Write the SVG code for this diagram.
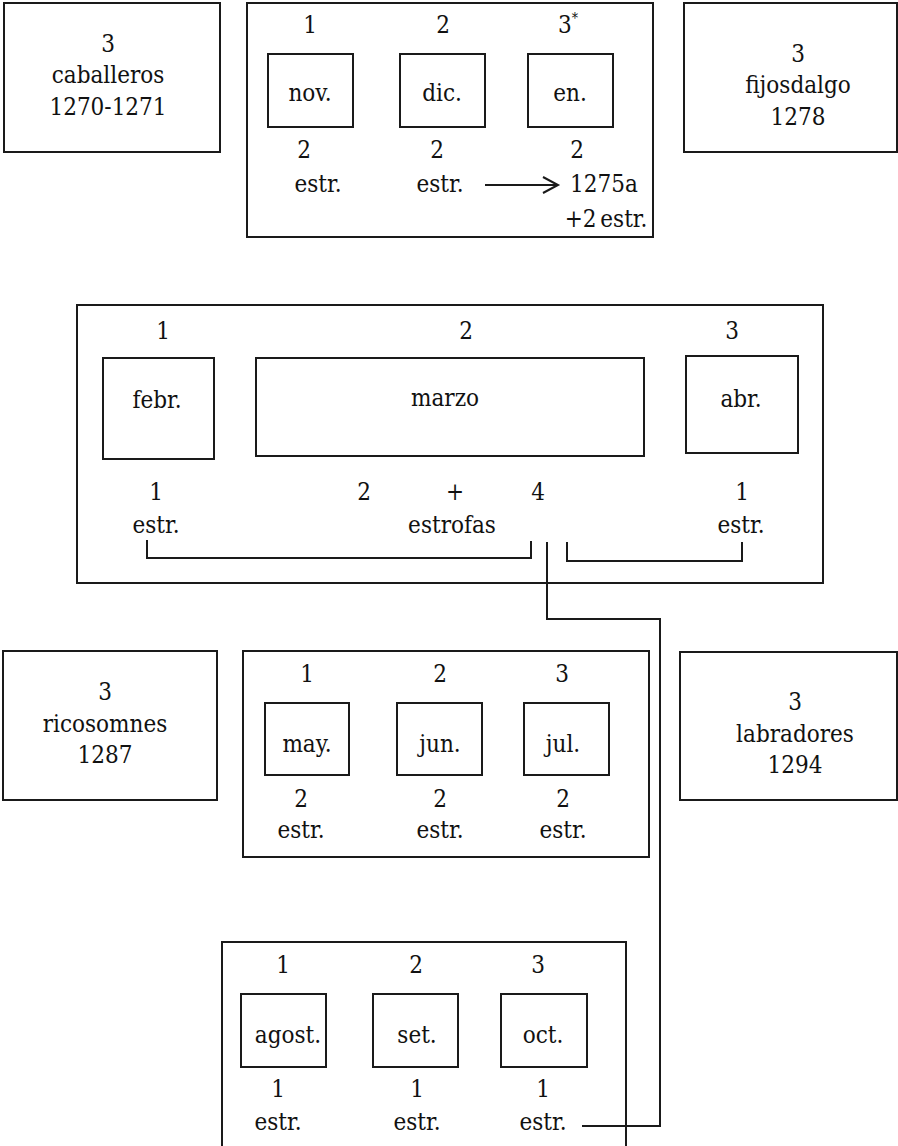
<svg xmlns="http://www.w3.org/2000/svg" width="898" height="1146" viewBox="0 0 898 1146">
<style>
rect{fill:none;stroke:#1a1a1a;stroke-width:2}
text{font-family:'DejaVu Serif Condensed','DejaVu Serif',serif;font-stretch:condensed;font-size:24px;fill:#111;text-anchor:middle}
.c{fill:none;stroke:#1a1a1a;stroke-width:2}
</style>
<rect x="0" y="0" width="898" height="1146" style="fill:#fff;stroke:none"/>
<g id="caballeros">
<rect x="4" y="3" width="216" height="149"/>
<text x="108" y="52">3</text>
<text x="108" y="83">caballeros</text>
<text x="108" y="115">1270-1271</text>
</g>
<g id="grupo-nov-en">
<rect x="247" y="3" width="406" height="234"/>
<text x="310" y="33">1</text>
<text x="443" y="33">2</text>
<text x="568" y="33">3<tspan font-size="14" dy="-10">*</tspan></text>
<rect x="268" y="54" width="85" height="73"/>
<text x="310" y="101">nov.</text>
<rect x="400" y="54" width="85" height="73"/>
<text x="442" y="101">dic.</text>
<rect x="528" y="54" width="85" height="73"/>
<text x="570" y="101">en.</text>
<text x="304" y="158">2</text>
<text x="318" y="192">estr.</text>
<text x="437" y="158">2</text>
<text x="440" y="192">estr.</text>
<text x="577" y="158">2</text>
<text x="604" y="192">1275a</text>
<text x="606" y="227" word-spacing="-3">+2 estr.</text>
</g>
<g id="fijosdalgo">
<rect x="684" y="3" width="213" height="149"/>
<text x="798" y="62">3</text>
<text x="798" y="93">fijosdalgo</text>
<text x="798" y="125">1278</text>
</g>
<g id="grupo-febr-abr">
<rect x="77" y="305" width="746" height="278"/>
<text x="163" y="339">1</text>
<text x="466" y="339">2</text>
<text x="732" y="339">3</text>
<rect x="103" y="358" width="111" height="101"/>
<text x="157" y="408">febr.</text>
<rect x="256" y="358" width="388" height="98"/>
<text x="445" y="406">marzo</text>
<rect x="686" y="356" width="112" height="97"/>
<text x="741" y="407">abr.</text>
<text x="156" y="500">1</text>
<text x="156" y="533">estr.</text>
<text x="364" y="500">2</text>
<text x="455" y="500">+</text>
<text x="538" y="500">4</text>
<text x="452" y="533">estrofas</text>
<text x="742" y="500">1</text>
<text x="741" y="533">estr.</text>
</g>
<g id="ricosomnes">
<rect x="3" y="651" width="214" height="149"/>
<text x="105" y="700">3</text>
<text x="105" y="732">ricosomnes</text>
<text x="105" y="763">1287</text>
</g>
<g id="grupo-may-jul">
<rect x="243" y="651" width="406" height="206"/>
<text x="307" y="682">1</text>
<text x="440" y="682">2</text>
<text x="562" y="682">3</text>
<rect x="265" y="703" width="84" height="72"/>
<text x="307" y="752">may.</text>
<rect x="397" y="703" width="85" height="72"/>
<text x="440" y="752">jun.</text>
<rect x="524" y="703" width="85" height="72"/>
<text x="563" y="752">jul.</text>
<text x="301" y="807">2</text>
<text x="301" y="838">estr.</text>
<text x="440" y="807">2</text>
<text x="440" y="838">estr.</text>
<text x="563" y="807">2</text>
<text x="563" y="838">estr.</text>
</g>
<g id="labradores">
<rect x="680" y="652" width="217" height="148"/>
<text x="795" y="710">3</text>
<text x="795" y="742">labradores</text>
<text x="795" y="773">1294</text>
</g>
<g id="grupo-agost-oct">
<rect x="222" y="942" width="404" height="220"/>
<text x="283" y="973">1</text>
<text x="416" y="973">2</text>
<text x="538" y="973">3</text>
<rect x="241" y="994" width="85" height="73"/>
<text x="288" y="1043">agost.</text>
<rect x="373" y="994" width="85" height="73"/>
<text x="417" y="1043">set.</text>
<rect x="501" y="994" width="86" height="73"/>
<text x="543" y="1043">oct.</text>
<text x="278" y="1097">1</text>
<text x="278" y="1130">estr.</text>
<text x="417" y="1097">1</text>
<text x="417" y="1130">estr.</text>
<text x="543" y="1097">1</text>
<text x="543" y="1130">estr.</text>
</g>
<g id="connectors">
<path class="c" d="M485 185 H557 M543 177 L558 185 L543 193"/>
<path class="c" d="M147 540 V558 H531 V541"/>
<path class="c" d="M567 542 V561 H742 V542"/>
<path class="c" d="M547 542 V619 H660 V1126 H582"/>
</g>
</svg>
